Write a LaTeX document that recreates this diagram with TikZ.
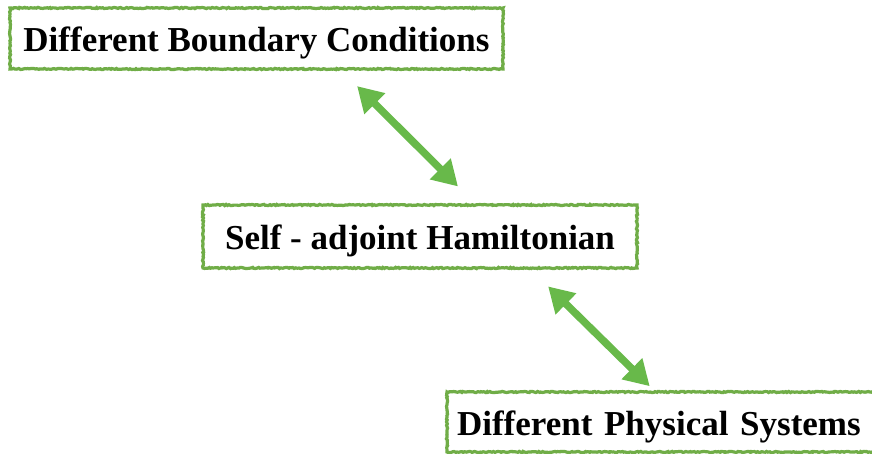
\documentclass[tikz,border=0pt]{standalone}
\usepackage{fontspec}
\setmainfont{Liberation Serif}
\usepackage{tikz}
\usetikzlibrary{arrows.meta,positioning,calc,decorations.pathmorphing}
\definecolor{boxgreen}{HTML}{70AD47}
\definecolor{arrowgreen}{HTML}{68B94A}

\begin{document}
\begin{tikzpicture}[x=1pt,y=1pt,
    roughbox/.style={draw=boxgreen, line width=3.2pt, fill=white, inner sep=0pt,
        text height=26pt, text depth=0pt,
        decorate, decoration={random steps, segment length=1.5pt, amplitude=0.6pt},
        font=\fontsize{35}{40}\selectfont\bfseries},
    link/.style={arrowgreen, line width=7.5pt, {Triangle[length=25pt,width=28pt]}-{Triangle[length=25pt,width=28pt]}}]
    \useasboundingbox (0,0) rectangle (872,453);
    \node[roughbox, minimum width=493pt, minimum height=61pt] (bc) at (256.5,414.5) {Different Boundary Conditions};
    \node[roughbox, minimum width=434pt, minimum height=63pt] (sah) at (420,216.5) {Self - adjoint Hamiltonian};
    \node[roughbox, minimum width=433pt, minimum height=60pt, text width=413pt, align=left] (dps) at (663.5,31) {Different Physical Systems};
    % arrows between the boxes
    \draw[link, shorten <=22pt, shorten >=24pt] ([xshift=85pt]bc.south) -- ([xshift=55pt]sah.north);
    \draw[link, shorten <=24pt, shorten >=6pt] ([xshift=111pt]sah.south) -- ([xshift=-9.5pt]dps.north);
\end{tikzpicture}
\end{document}
